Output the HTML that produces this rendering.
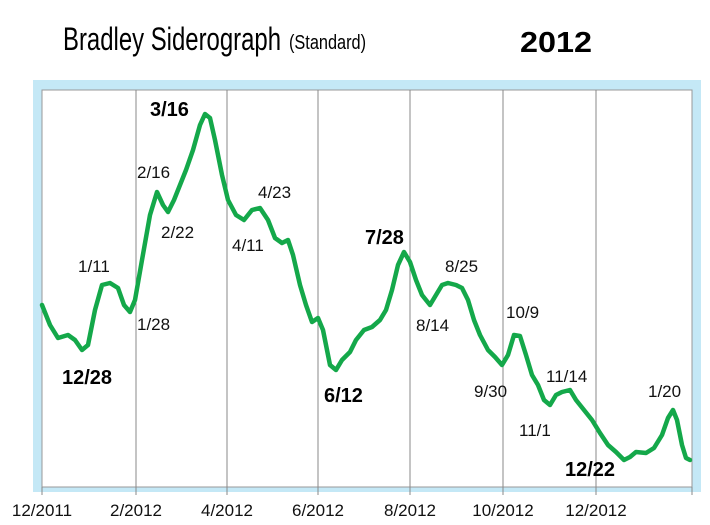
<!DOCTYPE html>
<html><head><style>
html,body{margin:0;padding:0;background:#fff;}
svg{display:block;}
text{font-family:"Liberation Sans",sans-serif;}
</style></head><body>
<svg width="710" height="525" viewBox="0 0 710 525" xmlns="http://www.w3.org/2000/svg">
<text x="63" y="50" font-size="32" textLength="218" lengthAdjust="spacingAndGlyphs">Bradley Siderograph</text>
<text x="289" y="49" font-size="20" textLength="77" lengthAdjust="spacingAndGlyphs">(Standard)</text>
<text x="520" y="52" font-size="29" font-weight="bold" textLength="72" lengthAdjust="spacingAndGlyphs">2012</text>
<rect x="33" y="80" width="668" height="412" fill="#c4e8f6"/>
<rect x="42" y="90" width="650" height="397" fill="#fff" stroke="#999" stroke-width="1"/>
<g stroke="#888" stroke-width="1">
<line x1="136" y1="90" x2="136" y2="495"/><line x1="227" y1="90" x2="227" y2="495"/>
<line x1="318" y1="90" x2="318" y2="495"/><line x1="410" y1="90" x2="410" y2="495"/>
<line x1="503" y1="90" x2="503" y2="495"/><line x1="596" y1="90" x2="596" y2="495"/>
<line x1="42" y1="487" x2="42" y2="495"/><line x1="692" y1="487" x2="692" y2="495"/>
</g>
<polyline fill="none" stroke="#14a84a" stroke-width="4.5" stroke-linejoin="round" stroke-linecap="round" points="42,305 50,325 58,338 68,335 75,340 82,350 88,345 95,310 102,285 110,283 118,288 124,305 130,312 135,300 142,260 150,215 157,192 163,205 168,212 174,200 180,185 186,170 193,150 200,125 205,114 210,118 215,140 222,175 228,200 236,215 244,220 252,210 260,208 268,220 275,238 282,243 288,240 293,255 300,285 306,305 312,322 318,318 323,330 330,365 336,370 342,360 350,352 356,340 364,330 372,327 380,320 386,310 392,290 398,265 404,252 410,262 416,280 422,295 430,305 436,295 442,285 448,283 456,285 462,288 468,300 474,320 480,335 488,350 495,357 502,365 508,355 514,335 520,336 526,355 532,375 538,385 544,400 550,405 556,395 562,392 570,390 576,400 584,410 592,420 600,433 608,445 616,452 624,460 630,457 636,452 646,453 654,448 662,435 668,418 673,410 677,420 682,445 686,458 690,460"/>
<g font-size="17" fill="#111">
<text x="78" y="272">1/11</text>
<text x="137" y="330">1/28</text>
<text x="137" y="178">2/16</text>
<text x="161" y="238">2/22</text>
<text x="232" y="251">4/11</text>
<text x="258" y="198">4/23</text>
<text x="416" y="331">8/14</text>
<text x="445" y="272">8/25</text>
<text x="474" y="397">9/30</text>
<text x="506" y="318">10/9</text>
<text x="546" y="382">11/14</text>
<text x="519" y="436">11/1</text>
<text x="648" y="397">1/20</text>
</g>
<g font-size="20" font-weight="bold" fill="#000">
<text x="150" y="116">3/16</text>
<text x="62" y="384">12/28</text>
<text x="324" y="402">6/12</text>
<text x="365" y="244">7/28</text>
<text x="565" y="476">12/22</text>
</g>
<g font-size="17" fill="#111" text-anchor="middle">
<text x="42" y="516">12/2011</text>
<text x="136" y="516">2/2012</text>
<text x="227" y="516">4/2012</text>
<text x="318" y="516">6/2012</text>
<text x="410" y="516">8/2012</text>
<text x="503" y="516">10/2012</text>
<text x="596" y="516">12/2012</text>
</g>
</svg>
</body></html>
